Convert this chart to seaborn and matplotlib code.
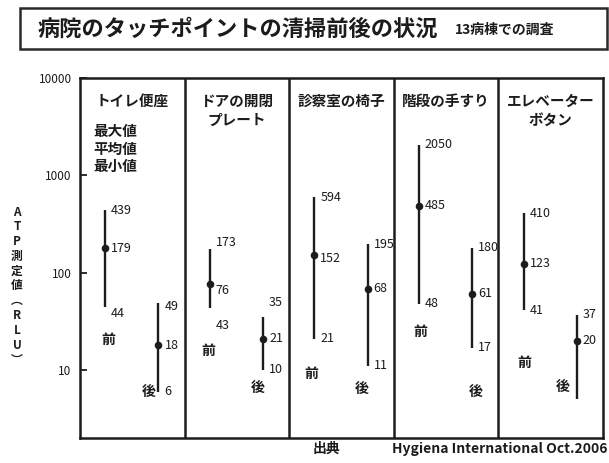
import matplotlib
matplotlib.use("Agg")
import matplotlib.pyplot as plt
import matplotlib.transforms as mtransforms
import pandas as pd
import seaborn as sns

# ---- data -------------------------------------------------------------
places = ["トイレ便座", "ドアの開閉\nプレート", "診察室の椅子", "階段の手すり", "エレベーター\nボタン"]
phases = ["前", "後"]

before_max = [439, 173, 594, 2050, 410]
before_mean = [179, 76, 152, 485, 123]
before_min = [44, 43, 21, 48, 41]

after_max = [49, 35, 195, 180, 37]
after_mean = [18, 21, 68, 61, 20]
after_min = [6, 10, 11, 17, 5]
after_min_shown = [True, True, True, True, False]

yticks = [10, 100, 1000, 10000]
ytick_labels = ["10", "100", "1000", "10000"]
legend_lines = ["最大値", "平均値", "最小値"]

title = "病院のタッチポイントの清掃前後の状況"
subtitle = "13病棟での調査"
ylabel = "ATP測定値（RLU）"
source_head = "出典"
source_body = "Hygiena International Oct.2006"

# ---- layout / style ---------------------------------------------------
W, H, DPI = 609, 463, 100
INK = "#1c1c1c"
FONT = ["Noto Sans CJK JP", "DejaVu Sans"]
PHASE_OFFSET = {"前": 0.24, "後": 0.75}

# pixel nudges (dx, dy-down) for the 前/後 tags, relative to the bottom of each range
tag_offsets = {
    "前": [(3, 33), (-1, 43), (-3, 35), (1, 28), (1, 53)],
    "後": [(-10, 0), (-5, 18), (-6, 23), (3, 44), (-14, -12)],
}
# vertical pixel nudges (down positive) for a few value labels: (panel, phase, stat)
label_nudge = {
    (0, "前", "min"): 6,
    (1, "前", "max"): -7,
    (1, "前", "mean"): 6,
    (1, "前", "min"): 17,
    (1, "後", "max"): -15,
    (2, "前", "mean"): 4,
    (0, "後", "max"): 4,
}

sns.set_theme(style="white")
plt.rcParams["font.family"] = FONT

rows = []
for i, place in enumerate(places):
    for ph, mx, mn, lo, shown in (
        ("前", before_max[i], before_mean[i], before_min[i], True),
        ("後", after_max[i], after_mean[i], after_min[i], after_min_shown[i]),
    ):
        rows.append(dict(panel=i, place=place, phase=ph, x=i + PHASE_OFFSET[ph],
                         vmax=mx, vmean=mn, vmin=lo, min_shown=shown))
df = pd.DataFrame(rows)

fig = plt.figure(figsize=(W / DPI, H / DPI), dpi=DPI)
fig.patch.set_facecolor("white")

ax_l, ax_r, ax_t, ax_b = 80, 603, 78, 438
ax = fig.add_axes([ax_l / W, 1 - ax_b / H, (ax_r - ax_l) / W, (ax_b - ax_t) / H])
ax.set_facecolor("white")

# ranges and mean dots
ax.vlines(df["x"], df["vmin"], df["vmax"], color=INK, lw=1.7, zorder=2)
sns.scatterplot(data=df, x="x", y="vmean", ax=ax, color=INK, s=30,
                linewidth=0, legend=False, zorder=3)

ax.set_yscale("log")
ax.set_ylim(2, 10000)
ax.set_xlim(0, len(places))
ax.set_yticks(yticks)
ax.set_yticklabels(ytick_labels)
ax.yaxis.set_minor_locator(matplotlib.ticker.NullLocator())
ax.set_xticks([])
ax.set_xlabel("")
ax.set_ylabel("")
ax.tick_params(axis="y", direction="in", length=5, width=1.3, color=INK,
               labelsize=8.5, labelcolor=INK, pad=6, left=True)
for s in ax.spines.values():
    s.set_visible(True)
    s.set_color(INK)
    s.set_linewidth(1.8)

for b in range(1, len(places)):
    ax.axvline(b, color=INK, lw=1.8, zorder=1)

trans_xa = mtransforms.blended_transform_factory(ax.transData, ax.transAxes)

# panel titles
for i, place in enumerate(places):
    ax.text(i + 0.5, (ax_b - 93) / (ax_b - ax_t), place, transform=trans_xa,
            ha="center", va="top", fontsize=10.5, fontweight="bold",
            color=INK, linespacing=1.25)

# legend text in the first panel
ax.text(0.125, (ax_b - 123) / (ax_b - ax_t), "\n".join(legend_lines), transform=trans_xa,
        ha="left", va="top", fontsize=10.5, fontweight="bold", color=INK, linespacing=1.12)

# value labels
for _, r in df.iterrows():
    for stat, key in (("max", "vmax"), ("mean", "vmean"), ("min", "vmin")):
        if stat == "min" and not r["min_shown"]:
            continue
        dy = label_nudge.get((r["panel"], r["phase"], stat), 0)
        ax.annotate(str(int(r[key])), (r["x"], r[key]), xytext=(6, -dy),
                    textcoords="offset pixels", ha="left", va="center",
                    fontsize=9, color=INK)
    dx, dy = tag_offsets[r["phase"]][r["panel"]]
    ax.annotate(r["phase"], (r["x"], r["vmin"]), xytext=(dx, -dy),
                textcoords="offset pixels", ha="center", va="center",
                fontsize=10, fontweight="bold", color=INK)

# vertical axis title, stacked character by character
vert = ylabel.replace("（", "︵").replace("）", "︶")
fig.text(17 / W, 1 - 286 / H, "\n".join(vert), ha="center", va="center",
         fontsize=8.5, fontweight="bold", color=INK, linespacing=1.18)

# boxed header
fig.patches.append(plt.Rectangle((20 / W, 1 - 49 / H), (607 - 20) / W, 41 / H,
                                 transform=fig.transFigure, fill=False,
                                 edgecolor="#2a2a2a", lw=1.8))
fig.text(38 / W, 1 - 29 / H, title, ha="left", va="center", fontsize=16,
         fontweight="bold", color=INK)
fig.text(455 / W, 1 - 30 / H, subtitle, ha="left", va="center", fontsize=10,
         fontweight="bold", color=INK)

# source line
fig.text(313 / W, 1 - 449 / H, source_head, ha="left", va="center", fontsize=10,
         fontweight="bold", color=INK)
fig.text(607 / W, 1 - 449 / H, source_body, ha="right", va="center", fontsize=10,
         fontweight="bold", color=INK)

fig.savefig("out.png", dpi=DPI, facecolor="white")
